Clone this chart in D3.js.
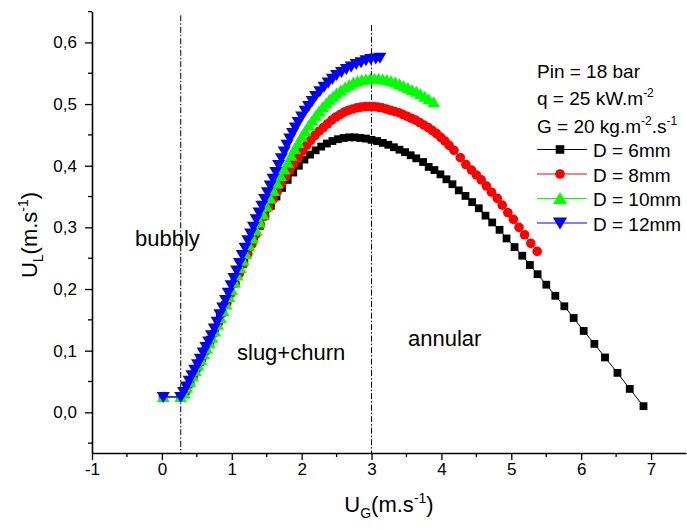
<!DOCTYPE html>
<html><head><meta charset="utf-8">
<script src="https://cdn.jsdelivr.net/npm/d3@7"></script>
<style>body{margin:0;background:#fff}text{font-family:"Liberation Sans",Arial,sans-serif}</style></head>
<body><svg id="c" width="687" height="529"></svg>
<script>
const xTicks=[-1,0,1,2,3,4,5,6,7];
const yTicks=[0,0.1,0.2,0.3,0.4,0.5,0.6];
const yTickLabels=["0,0","0,1","0,2","0,3","0,4","0,5","0,6"];
const seriesNames=["D = 6mm","D = 8mm","D = 10mm","D = 12mm"];
const seriesColors=["#000000","#ff0000","#00ff00","#0000ff"];
const regimeBoundaries=[0.27,3.0];
const regimeLabels=["bubbly","slug+churn","annular"];
const conditions=["Pin = 18 bar","q = 25 kW.m","G = 20 kg.m"];

const d6=[[0.02,0.025],[0.27,0.025],[0.34,0.034],[0.41,0.049],[0.48,0.065],[0.55,0.082],[0.62,0.1],[0.69,0.118],[0.76,0.136],[0.83,0.155],[0.90,0.174],[0.97,0.193],[1.04,0.212],[1.11,0.231],[1.18,0.25],[1.25,0.268],[1.32,0.285],[1.40,0.302],[1.48,0.319],[1.56,0.335],[1.64,0.35],[1.72,0.364],[1.80,0.377],[1.88,0.389],[1.96,0.4],[2.04,0.41],[2.12,0.418],[2.20,0.425],[2.28,0.431],[2.36,0.436],[2.44,0.44],[2.52,0.443],[2.60,0.445],[2.68,0.446],[2.76,0.446],[2.84,0.445],[2.92,0.444],[3.00,0.442],[3.08,0.44],[3.16,0.437],[3.24,0.434],[3.32,0.43],[3.40,0.426],[3.48,0.422],[3.56,0.417],[3.64,0.412],[3.738,0.406],[3.818,0.398],[3.90,0.393],[3.986,0.386],[4.072,0.378],[4.158,0.37],[4.248,0.36],[4.344,0.351],[4.44,0.341],[4.535,0.331],[4.631,0.319],[4.727,0.308],[4.832,0.296],[4.932,0.282],[5.047,0.268],[5.157,0.254],[5.266,0.239],[5.376,0.224],[5.501,0.207],[5.63,0.189],[5.759,0.172],[5.892,0.153],[6.036,0.132],[6.189,0.111],[6.341,0.089],[6.519,0.064],[6.695,0.038],[6.892,0.01]];

const d8=[[0.02,0.025],[0.27,0.025],[0.33,0.033],[0.39,0.045],[0.45,0.058],[0.51,0.072],[0.57,0.086],[0.63,0.1],[0.69,0.114],[0.75,0.129],[0.81,0.145],[0.87,0.161],[0.93,0.177],[0.99,0.193],[1.05,0.209],[1.11,0.225],[1.17,0.241],[1.23,0.257],[1.29,0.273],[1.35,0.289],[1.41,0.304],[1.47,0.318],[1.53,0.332],[1.59,0.345],[1.65,0.358],[1.71,0.37],[1.77,0.382],[1.83,0.393],[1.89,0.404],[1.95,0.414],[2.01,0.424],[2.07,0.433],[2.13,0.441],[2.19,0.449],[2.25,0.456],[2.31,0.462],[2.37,0.468],[2.43,0.474],[2.49,0.479],[2.55,0.483],[2.61,0.487],[2.67,0.49],[2.73,0.492],[2.79,0.494],[2.85,0.495],[2.91,0.496],[2.97,0.496],[3.03,0.496],[3.09,0.495],[3.15,0.494],[3.21,0.492],[3.27,0.49],[3.33,0.488],[3.39,0.486],[3.45,0.483],[3.51,0.48],[3.57,0.477],[3.63,0.474],[3.69,0.47],[3.75,0.466],[3.81,0.462],[3.87,0.457],[3.93,0.452],[3.99,0.446],[4.05,0.44],[4.11,0.433],[4.18,0.425],[4.27,0.413],[4.35,0.402],[4.43,0.393],[4.50,0.385],[4.57,0.377],[4.645,0.367],[4.717,0.357],[4.80,0.347],[4.87,0.336],[4.95,0.324],[5.03,0.313],[5.11,0.30],[5.19,0.288],[5.28,0.274],[5.37,0.261]];

const d10=[[0.02,0.025],[0.27,0.025],[0.32,0.031],[0.36,0.04],[0.40,0.049],[0.44,0.058],[0.48,0.067],[0.52,0.076],[0.56,0.085],[0.60,0.094],[0.64,0.103],[0.68,0.112],[0.72,0.121],[0.76,0.131],[0.80,0.142],[0.84,0.153],[0.88,0.164],[0.92,0.175],[0.96,0.187],[1.00,0.198],[1.04,0.21],[1.08,0.222],[1.12,0.234],[1.16,0.246],[1.20,0.257],[1.25,0.27],[1.30,0.282],[1.35,0.295],[1.40,0.308],[1.45,0.321],[1.50,0.334],[1.55,0.347],[1.60,0.359],[1.65,0.371],[1.70,0.383],[1.75,0.394],[1.80,0.405],[1.85,0.416],[1.90,0.427],[1.95,0.437],[2.00,0.447],[2.05,0.456],[2.10,0.465],[2.15,0.473],[2.20,0.481],[2.25,0.488],[2.30,0.495],[2.35,0.501],[2.40,0.507],[2.45,0.512],[2.50,0.517],[2.56,0.522],[2.62,0.527],[2.68,0.531],[2.74,0.535],[2.80,0.537],[2.86,0.539],[2.92,0.54],[2.98,0.541],[3.04,0.541],[3.10,0.541],[3.16,0.54],[3.22,0.539],[3.28,0.537],[3.34,0.535],[3.40,0.532],[3.46,0.529],[3.52,0.526],[3.58,0.523],[3.64,0.52],[3.70,0.516],[3.76,0.512],[3.82,0.508],[3.89,0.503]];

const d12=[[0.02,0.025],[0.27,0.025],[0.31,0.033],[0.35,0.042],[0.39,0.051],[0.43,0.06],[0.47,0.069],[0.51,0.078],[0.55,0.087],[0.59,0.097],[0.63,0.106],[0.67,0.115],[0.71,0.125],[0.75,0.136],[0.79,0.147],[0.83,0.159],[0.87,0.17],[0.91,0.182],[0.95,0.194],[0.99,0.206],[1.03,0.218],[1.07,0.23],[1.11,0.242],[1.15,0.255],[1.19,0.267],[1.23,0.279],[1.27,0.29],[1.31,0.301],[1.35,0.313],[1.39,0.324],[1.43,0.335],[1.47,0.346],[1.51,0.357],[1.55,0.368],[1.59,0.379],[1.63,0.39],[1.67,0.401],[1.71,0.412],[1.75,0.423],[1.79,0.434],[1.83,0.444],[1.87,0.453],[1.91,0.462],[1.95,0.471],[2.0,0.48],[2.05,0.489],[2.1,0.497],[2.15,0.505],[2.2,0.513],[2.26,0.521],[2.32,0.528],[2.38,0.535],[2.44,0.541],[2.5,0.547],[2.57,0.552],[2.64,0.557],[2.71,0.561],[2.78,0.565],[2.85,0.568],[2.92,0.571],[2.99,0.573],[3.06,0.574],[3.12,0.575]];

const seriesData=[d6,d8,d10,d12];

const svg=d3.select("#c");
const x=d3.scaleLinear().domain([-1,7.5]).range([92,686]);
const y=d3.scaleLinear().domain([-0.066,0.65]).range([453,11.6]);

// regime boundary lines
const bTop=[0.644,0.628];
regimeBoundaries.forEach((b,i)=>{
  svg.append("line").attr("x1",x(b)).attr("x2",x(b)).attr("y1",y(bTop[i])).attr("y2",y(-0.066))
    .attr("stroke","#000").attr("stroke-width",1).attr("stroke-dasharray","6,2,1.5,2");
});

// axes
const xAxis=svg.append("g").attr("transform",`translate(0,${y(-0.066)})`)
  .call(d3.axisBottom(x).tickValues(xTicks).tickSize(7).tickSizeOuter(0).tickFormat(d=>String(d)));
const xMinor=d3.range(-0.5,7.5,1);
xAxis.selectAll(".minor").data(xMinor).enter().append("line").attr("class","minor")
  .attr("x1",d=>x(d)).attr("x2",d=>x(d)).attr("y1",0).attr("y2",4).attr("stroke","#000").attr("stroke-width",1.3);
const yAxis=svg.append("g").attr("transform",`translate(${x(-1)},0)`)
  .call(d3.axisLeft(y).tickValues(yTicks).tickSize(7).tickSizeOuter(0).tickFormat((d,i)=>yTickLabels[i]));
const yMinor=[-0.05,0.05,0.15,0.25,0.35,0.45,0.55,0.65];
yAxis.selectAll(".minor").data(yMinor).enter().append("line").attr("class","minor")
  .attr("x1",0).attr("x2",-4).attr("y1",d=>y(d)).attr("y2",d=>y(d)).attr("stroke","#000").attr("stroke-width",1.3);
[xAxis,yAxis].forEach(g=>{
  g.select(".domain").attr("stroke-width",1.6);
  g.selectAll(".tick line").attr("stroke-width",1.3);
  g.selectAll(".tick text").attr("font-size",17).attr("font-family","Liberation Sans, Arial, sans-serif").attr("fill","#000");
});
xAxis.selectAll(".tick text").attr("dy","0.72em");
yAxis.selectAll(".tick text").attr("dx","-0.3em");

// markers
function markerPath(i){
  if(i===0){const h=3.9;return `M${-h},${-h}H${h}V${h}H${-h}Z`;}
  if(i===1){const r=4.8;return `M${r},0A${r},${r},0,1,1,${-r},0A${r},${r},0,1,1,${r},0Z`;}
  if(i===2){const w=6.3;return `M0,${-6}L${w},${5}L${-w},${5}Z`;}
  const w=6.5;return `M0,${6}L${w},${-5}L${-w},${-5}Z`;
}
const line=d3.line().x(d=>x(d[0])).y(d=>y(d[1]));
seriesData.forEach((data,i)=>{
  const g=svg.append("g");
  g.append("path").datum(data).attr("d",line).attr("fill","none").attr("stroke",seriesColors[i]).attr("stroke-width",1);
  g.selectAll("path.m").data(data).enter().append("path").attr("class","m")
    .attr("transform",d=>`translate(${x(d[0])},${y(d[1])})`).attr("d",markerPath(i)).attr("fill",seriesColors[i]);
});

// regime labels
const regimePos=[[135,246],[237,360],[408,346]];
regimeLabels.forEach((t,i)=>svg.append("text").attr("x",regimePos[i][0]).attr("y",regimePos[i][1]).attr("font-size",22).text(t));

// axis titles
const xt=svg.append("text").attr("x",389).attr("y",512).attr("text-anchor","middle").attr("font-size",22);
xt.append("tspan").text("U");
xt.append("tspan").attr("font-size",14).attr("dy",6).text("G");
xt.append("tspan").attr("dy",-6).text("(m.s");
xt.append("tspan").attr("font-size",14).attr("dy",-9).text("-1");
xt.append("tspan").attr("dy",9).text(")");
const yt=svg.append("text").attr("transform","translate(37,235) rotate(-90)").attr("text-anchor","middle").attr("font-size",22);
yt.append("tspan").text("U");
yt.append("tspan").attr("font-size",14).attr("dy",6).text("L");
yt.append("tspan").attr("dy",-6).text("(m.s");
yt.append("tspan").attr("font-size",14).attr("dy",-9).text("-1");
yt.append("tspan").attr("dy",9).text(")");

// legend
const lx=537, fs=19;
svg.append("text").attr("x",lx).attr("y",78).attr("font-size",fs).text(conditions[0]);
const c1=svg.append("text").attr("x",lx).attr("y",105).attr("font-size",fs);
c1.append("tspan").text(conditions[1]);
c1.append("tspan").attr("font-size",12).attr("dy",-8).text("-2");
const c2=svg.append("text").attr("x",lx).attr("y",133).attr("font-size",fs);
c2.append("tspan").text(conditions[2]);
c2.append("tspan").attr("font-size",12).attr("dy",-8).text("-2");
c2.append("tspan").attr("dy",8).text(".s");
c2.append("tspan").attr("font-size",12).attr("dy",-8).text("-1");
const legY=[149.5,174,198.5,223];
seriesNames.forEach((n,i)=>{
  svg.append("line").attr("x1",lx).attr("x2",587).attr("y1",legY[i]).attr("y2",legY[i]).attr("stroke",seriesColors[i]).attr("stroke-width",1);
  const s=i===0?1.1:(i===1?1.0:1.1);
  svg.append("path").attr("transform",`translate(560,${legY[i]}) scale(${s})`).attr("d",markerPath(i)).attr("fill",seriesColors[i]);
  svg.append("text").attr("x",593).attr("y",legY[i]+7.5).attr("font-size",fs).text(n);
});
</script></body></html>
